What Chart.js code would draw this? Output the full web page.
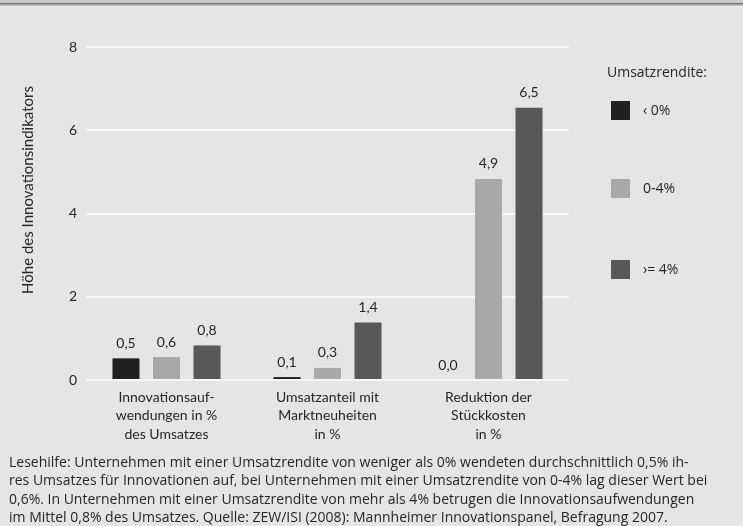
<!DOCTYPE html>
<html>
<head>
<meta charset="utf-8">
<script src="https://cdn.jsdelivr.net/npm/chart.js@4"></script>
<style>
html,body{margin:0;padding:0;background:#e5e5e5;}
#wrap{width:743px;height:526px;position:relative;}
</style>
</head>
<body>
<div id="wrap"><canvas id="c" width="743" height="526"></canvas></div>
<script>
const categories = [
  ['Innovationsauf-', 'wendungen in %', 'des Umsatzes'],
  ['Umsatzanteil mit', 'Marktneuheiten', 'in %'],
  ['Reduktion der', 'Stückkosten', 'in %']
];
const seriesNames = ['‹ 0%', '0-4%', '›= 4%'];
const negValues = [0.52, 0.07, 0];
const midValues = [0.55, 0.29, 4.83];
const highValues = [0.83, 1.38, 6.54];
const negLabels = ['0,5', '0,1', '0,0'];
const midLabels = ['0,6', '0,3', '4,9'];
const highLabels = ['0,8', '1,4', '6,5'];
const yTicks = [0, 2, 4, 6, 8];
const yTitle = 'Höhe des Innovationsindikators';
const legendTitle = 'Umsatzrendite:';
const caption = [
  'Lesehilfe: Unternehmen mit einer Umsatzrendite von weniger als 0% wendeten durchschnittlich 0,5% ih-',
  'res Umsatzes für Innovationen auf, bei Unternehmen mit einer Umsatzrendite von 0-4% lag dieser Wert bei',
  '0,6%. In Unternehmen mit einer Umsatzrendite von mehr als 4% betrugen die Innovationsaufwendungen',
  'im Mittel 0,8% des Umsatzes. Quelle: ZEW/ISI (2008): Mannheimer Innovationspanel, Befragung 2007.'
];
const colors = ['#231f20', '#a8a8aa', '#58585a'];
const valueLabels = [negLabels, midLabels, highLabels];
const FONT = 'Lato, "Open Sans", sans-serif';
const FONT2 = '"Open Sans", sans-serif';
const TEXT = '#262626';

const extras = {
  id: 'extras',
  beforeDraw(chart) {
    const ctx = chart.ctx;
    ctx.save();
    ctx.fillStyle = '#e5e5e5';
    ctx.fillRect(0, 0, chart.width, chart.height);
    ctx.fillStyle = '#c8c8c8'; ctx.fillRect(0, 0, chart.width, 3);
    ctx.fillStyle = '#737373'; ctx.fillRect(0, 3, chart.width, 1.5);
    ctx.fillStyle = '#9a9a9a'; ctx.fillRect(0, 4.5, chart.width, 1);
    ctx.restore();
  },
  afterDraw(chart) {
    const ctx = chart.ctx;
    ctx.save();
    // value labels
    ctx.font = '14px ' + FONT;
    ctx.fillStyle = TEXT;
    ctx.textAlign = 'center';
    ctx.textBaseline = 'middle';
    chart.data.datasets.forEach((ds, i) => {
      const meta = chart.getDatasetMeta(i);
      meta.data.forEach((bar, j) => {
        ctx.fillText(valueLabels[i][j], bar.x, bar.y - 15);
      });
    });
    // y title
    ctx.save();
    ctx.translate(28, 190);
    ctx.rotate(-Math.PI / 2);
    ctx.font = '15px ' + FONT;
    ctx.fillText(yTitle, 0, 0);
    ctx.restore();
    // legend
    ctx.textAlign = 'left';
    ctx.font = '14px ' + FONT2;
    ctx.fillText(legendTitle, 607, 73, 105);
    const boxY = [101, 179, 260];
    seriesNames.forEach((n, i) => {
      ctx.fillStyle = colors[i];
      ctx.fillRect(611, boxY[i], 19, 19);
      ctx.fillStyle = TEXT;
      ctx.fillText(n, 643, boxY[i] + 10);
    });
    // caption
    ctx.font = '14px ' + FONT2;
    ctx.textBaseline = 'middle';
    const full = 732;
    const ratio = full / ctx.measureText(caption[2]).width;
    const ys = [463, 481, 500, 518];
    caption.forEach((line, i) => {
      const w = ctx.measureText(line).width;
      const mw = i < 3 ? full : w * ratio;
      ctx.fillText(line, 9, ys[i], mw);
    });
    ctx.restore();
  }
};

new Chart(document.getElementById('c'), {
  type: 'bar',
  data: {
    labels: categories,
    datasets: [
      { label: seriesNames[0], data: negValues, backgroundColor: colors[0] },
      { label: seriesNames[1], data: midValues, backgroundColor: colors[1] },
      { label: seriesNames[2], data: highValues, backgroundColor: colors[2] }
    ]
  },
  options: {
    responsive: false,
    animation: false,
    devicePixelRatio: 1,
    layout: { padding: { left: 0, right: 174, top: 47, bottom: 0 } },
    datasets: { bar: { categoryPercentage: 0.755, barPercentage: 0.667 } },
    plugins: { legend: { display: false }, tooltip: { enabled: false } },
    scales: {
      x: {
        grid: { display: false, drawTicks: false },
        border: { display: false },
        ticks: { color: TEXT, font: { family: FONT, size: 14, lineHeight: 1.33 }, padding: 8, maxRotation: 0, autoSkip: false },
        afterFit(s) { s.height = 146; }
      },
      y: {
        min: 0, max: 8,
        afterBuildTicks(s) { s.ticks = yTicks.map(v => ({ value: v })); },
        grid: { color: '#f8f8f8', lineWidth: 2, drawTicks: false },
        border: { display: false },
        ticks: { color: TEXT, font: { family: FONT, size: 14 }, padding: 9 },
        afterFit(s) { s.width = 86; }
      }
    }
  },
  plugins: [extras]
});
</script>
</body>
</html>
